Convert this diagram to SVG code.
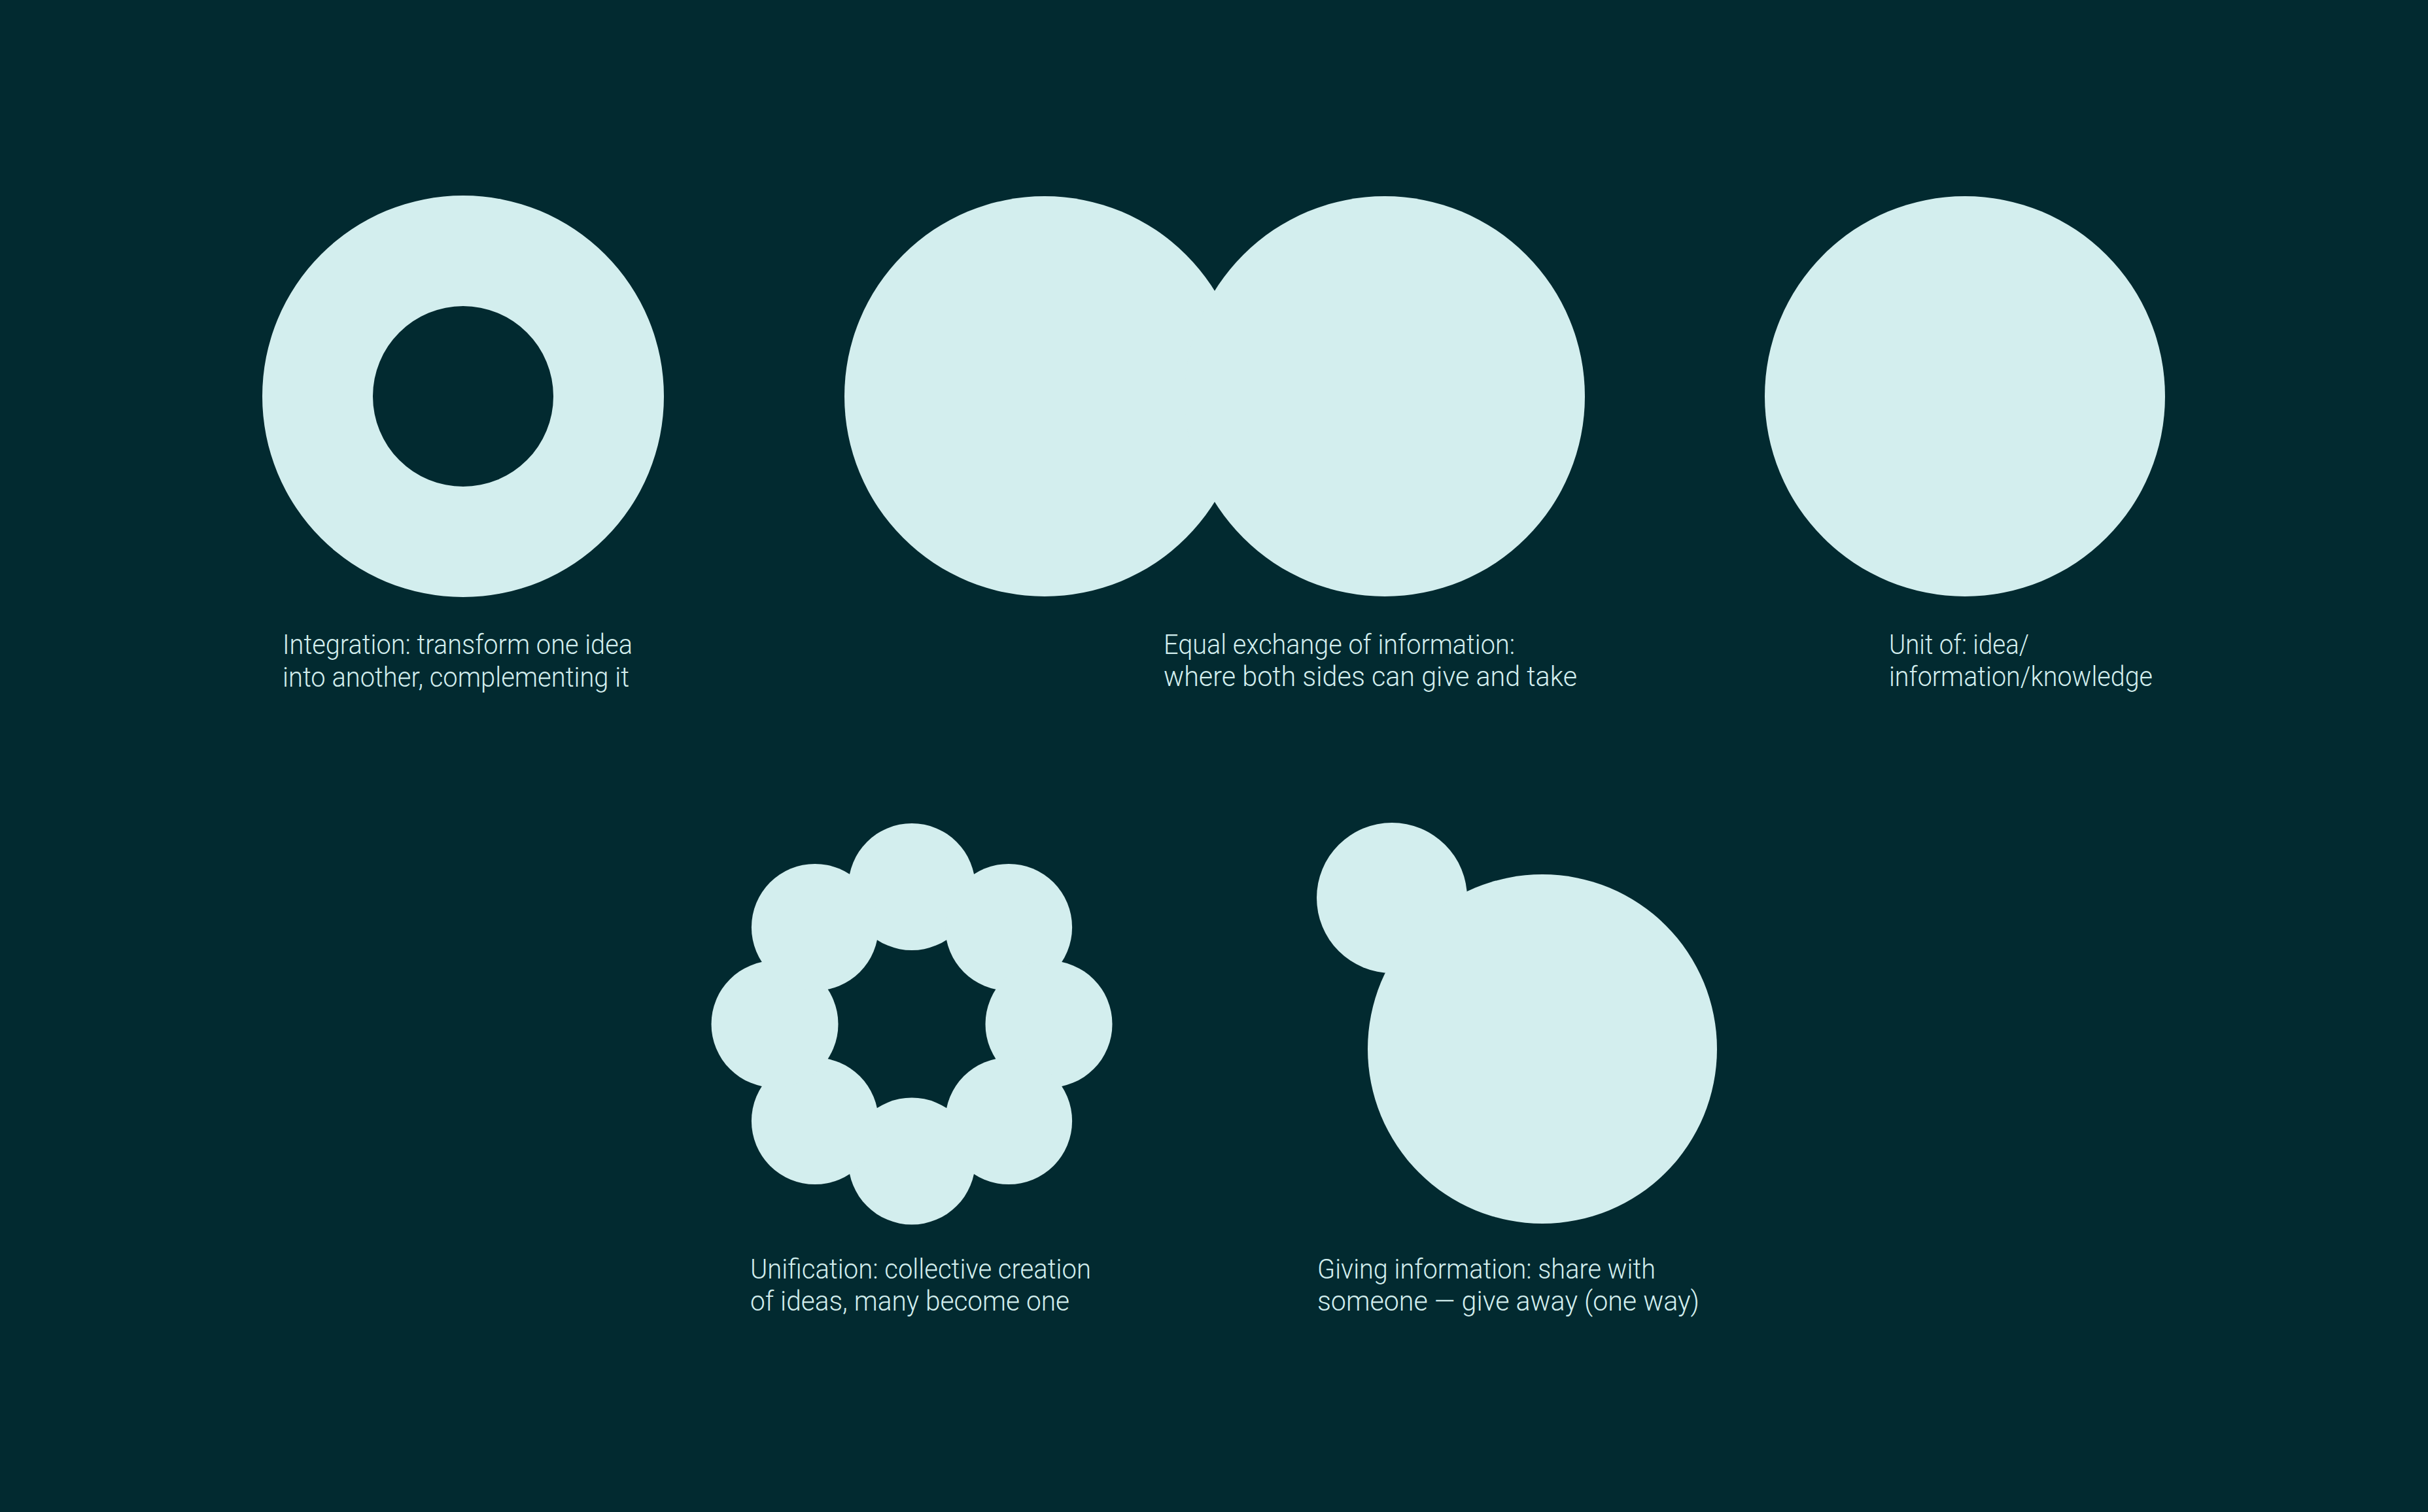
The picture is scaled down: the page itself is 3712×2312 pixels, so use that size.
<svg xmlns="http://www.w3.org/2000/svg" width="3712" height="2312" viewBox="0 0 3712 2312">
<style>
.shape{fill:#d3eeee}
.bg{fill:#022a30}
.lbl{fill:#d3eeee;font-family:Roboto,"Liberation Sans",Arial,sans-serif;font-weight:300;font-size:42px}
</style>
<rect class="bg" x="0" y="0" width="3712" height="2312"/>
<g id="integration">
<path class="shape" fill-rule="evenodd" d="M401 606a307 307 0 1 0 614 0a307 307 0 1 0 -614 0Z M570 606a138 138 0 1 0 276 0a138 138 0 1 0 -276 0Z"/>
<text class="lbl" x="432" y="1000" textLength="535" lengthAdjust="spacingAndGlyphs">Integration: transform one idea</text>
<text class="lbl" x="432" y="1050" textLength="530" lengthAdjust="spacingAndGlyphs">into another, complementing it</text>
</g>
<g id="exchange">
<circle class="shape" cx="1597" cy="606" r="306"/>
<circle class="shape" cx="2117" cy="606" r="306"/>
<text class="lbl" x="1779" y="1000" textLength="537" lengthAdjust="spacingAndGlyphs">Equal exchange of information:</text>
<text class="lbl" x="1779" y="1049" textLength="632" lengthAdjust="spacingAndGlyphs">where both sides can give and take</text>
</g>
<g id="unit">
<circle class="shape" cx="3004" cy="606" r="306"/>
<text class="lbl" x="2888" y="1000" textLength="214" lengthAdjust="spacingAndGlyphs">Unit of: idea/</text>
<text class="lbl" x="2888" y="1049" textLength="403" lengthAdjust="spacingAndGlyphs">information/knowledge</text>
</g>
<g id="unification">
<circle class="shape" cx="1394" cy="1356" r="97"/>
<circle class="shape" cx="1542.1" cy="1417.9" r="97"/>
<circle class="shape" cx="1603.5" cy="1566" r="97"/>
<circle class="shape" cx="1542.1" cy="1714.1" r="97"/>
<circle class="shape" cx="1394" cy="1775.5" r="97"/>
<circle class="shape" cx="1245.9" cy="1714.1" r="97"/>
<circle class="shape" cx="1184.5" cy="1566" r="97"/>
<circle class="shape" cx="1245.9" cy="1417.9" r="97"/>
<text class="lbl" x="1147" y="1955" textLength="521" lengthAdjust="spacingAndGlyphs">Unification: collective creation</text>
<text class="lbl" x="1147" y="2004" textLength="488" lengthAdjust="spacingAndGlyphs">of ideas, many become one</text>
</g>
<g id="giving">
<circle class="shape" cx="2128" cy="1373" r="115"/>
<circle class="shape" cx="2358" cy="1604" r="267"/>
<text class="lbl" x="2014" y="1955" textLength="517" lengthAdjust="spacingAndGlyphs">Giving information: share with</text>
<text class="lbl" x="2014" y="2004" textLength="584" lengthAdjust="spacingAndGlyphs">someone — give away (one way)</text>
</g>
<g id="connectors"/>
</svg>
